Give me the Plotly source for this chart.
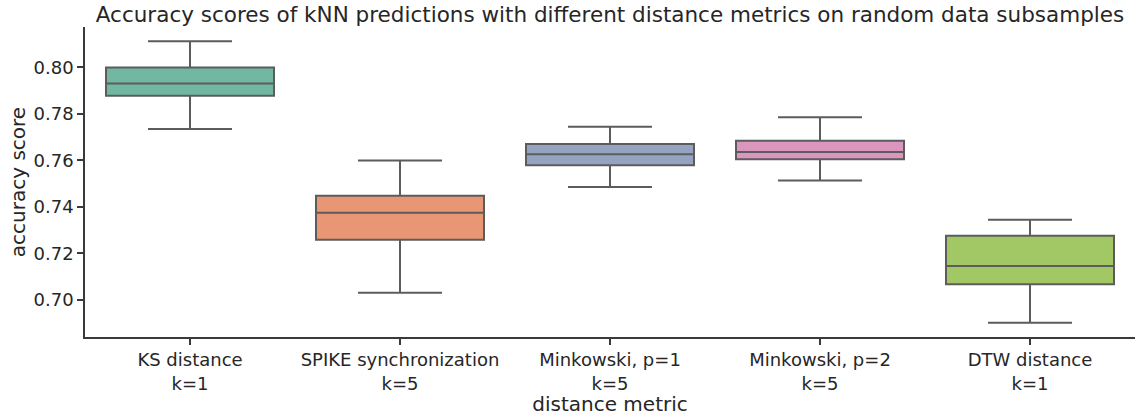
import plotly.graph_objects as go

categories = ["KS distance<br>k=1", "SPIKE synchronization<br>k=5", "Minkowski, p=1<br>k=5",
              "Minkowski, p=2<br>k=5", "DTW distance<br>k=1"]
lower_whisker = [0.7735, 0.7030, 0.7486, 0.7513, 0.6901]
q1_vals = [0.7878, 0.7258, 0.7579, 0.7605, 0.7067]
medians = [0.7931, 0.7375, 0.7626, 0.7636, 0.7145]
q3_vals = [0.8000, 0.7448, 0.7670, 0.7685, 0.7276]
upper_whisker = [0.8113, 0.7599, 0.7745, 0.7786, 0.7345]
colors = ["#72b7a1", "#e99675", "#95a3c3", "#db96c0", "#a2c865"]

fig = go.Figure()
for i, cat in enumerate(categories):
    fig.add_trace(go.Box(
        x=[cat], q1=[q1_vals[i]], median=[medians[i]], q3=[q3_vals[i]],
        lowerfence=[lower_whisker[i]], upperfence=[upper_whisker[i]],
        fillcolor=colors[i], line=dict(color="#5c5c5c", width=2),
        width=0.8, whiskerwidth=0.5, boxpoints=False, showlegend=False,
        hoverinfo="y"))

font = "DejaVu Sans"
fig.update_layout(
    width=1137, height=416, plot_bgcolor="white", paper_bgcolor="white",
    margin=dict(l=85, r=2, t=27, b=79),
    boxmode="overlay",
    font=dict(family=font, size=18, color="#262626"),
    title=dict(text="Accuracy scores of kNN predictions with different distance metrics on random data subsamples",
               x=0.5, xanchor="center", xref="paper", y=1 - 14 / 416, yref="container", yanchor="middle",
               font=dict(size=21.5, color="#262626")),
    xaxis=dict(type="category", categoryorder="array", categoryarray=categories,
               range=[-0.5, 4.5], showline=True, linecolor="#3a3a3a", linewidth=1.5,
               ticks="outside", ticklen=6, tickwidth=1.5, tickcolor="#3a3a3a",
               showgrid=False, zeroline=False,
               title=dict(text="distance metric", standoff=0, font=dict(size=20))),
    yaxis=dict(range=[0.6840, 0.8174], showline=True, linecolor="#3a3a3a", linewidth=1.5,
               ticks="outside", ticklen=6, tickwidth=1.5, tickcolor="#3a3a3a",
               tickvals=[0.70, 0.72, 0.74, 0.76, 0.78, 0.80],
               ticktext=["0.70", "0.72", "0.74", "0.76", "0.78", "0.80"],
               showgrid=False, zeroline=False,
               title=dict(text="accuracy score", standoff=3, font=dict(size=20))),
)

fig.write_html("out.html")
